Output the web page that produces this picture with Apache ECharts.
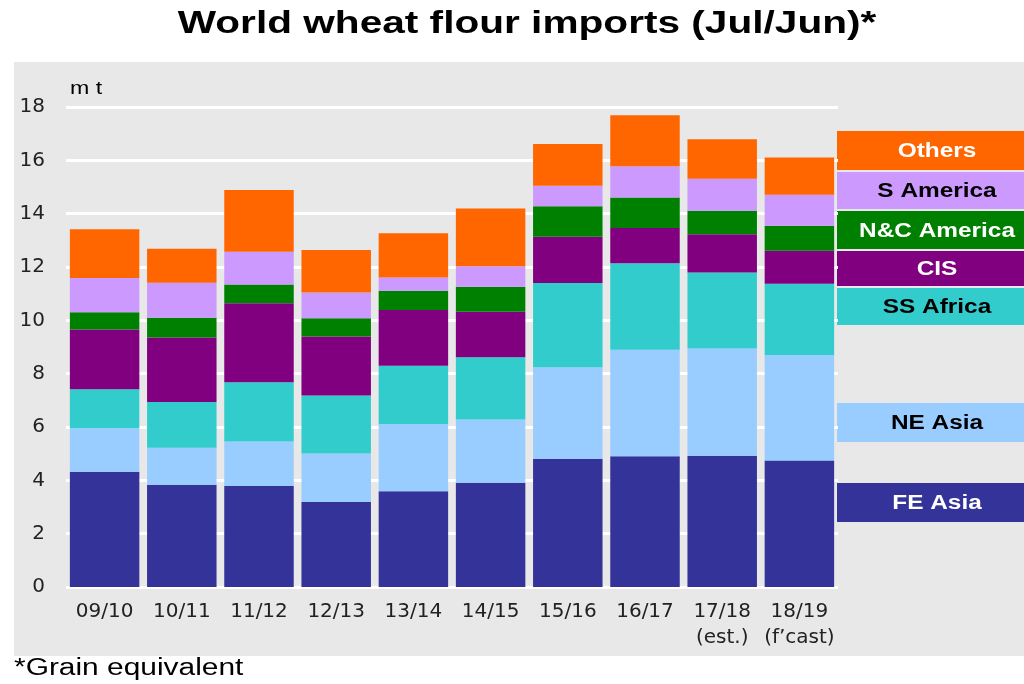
<!DOCTYPE html>
<html>
<head>
<meta charset="utf-8">
<script src="https://cdn.jsdelivr.net/npm/echarts@6/dist/echarts.min.js"></script>
<style>
html,body{margin:0;padding:0;background:#fff;}
#panel{position:absolute;left:14px;top:62px;width:1010px;height:594px;background:#e8e8e8;}
#chart{position:absolute;left:0;top:0;width:1024px;height:684px;}
</style>
</head>
<body>
<div id="panel"></div>
<div id="chart"></div>
<script>
const categories = ['09/10','10/11','11/12','12/13','13/14','14/15','15/16','16/17','17/18\n(est.)','18/19\n(f\u2019cast)'];
const feAsia    = [4.32, 3.83, 3.79, 3.19, 3.59, 3.91, 4.80, 4.90, 4.92, 4.74];
const neAsia    = [1.63, 1.39, 1.67, 1.82, 2.52, 2.37, 3.44, 4.00, 4.02, 3.96];
const ssAfrica  = [1.47, 1.72, 2.22, 2.17, 2.19, 2.34, 3.16, 3.24, 2.85, 2.67];
const cis       = [2.24, 2.42, 2.96, 2.21, 2.09, 1.70, 1.73, 1.32, 1.44, 1.24];
const ncAmerica = [0.64, 0.74, 0.70, 0.69, 0.72, 0.94, 1.15, 1.15, 0.88, 0.94];
const sAmerica  = [1.29, 1.31, 1.23, 0.96, 0.50, 0.77, 0.77, 1.17, 1.20, 1.16];
const others    = [1.83, 1.27, 2.32, 1.60, 1.66, 2.16, 1.56, 1.91, 1.48, 1.40];
const yTicks = {min: 0, max: 18, interval: 2};

const seriesDefs = [
  {name: 'FE Asia', data: feAsia, color: '#333399', text: '#ffffff', box: [483, 522]},
  {name: 'NE Asia', data: neAsia, color: '#99ccff', text: '#000000', box: [403, 442]},
  {name: 'SS Africa', data: ssAfrica, color: '#33cccc', text: '#000000', box: [288, 325]},
  {name: 'CIS', data: cis, color: '#800080', text: '#ffffff', box: [251, 286]},
  {name: 'N&C America', data: ncAmerica, color: '#008000', text: '#ffffff', box: [211, 249]},
  {name: 'S America', data: sAmerica, color: '#cc99ff', text: '#000000', box: [172, 209]},
  {name: 'Others', data: others, color: '#ff6600', text: '#ffffff', box: [131, 170]}
];

const FONT = '"Liberation Sans", Arial, sans-serif';
const chart = echarts.init(document.getElementById('chart'), null, {renderer: 'canvas'});

const graphics = [];
seriesDefs.forEach(s => {
  graphics.push({
    type: 'rect', left: 837, top: s.box[0],
    shape: {width: 187, height: s.box[1] - s.box[0]},
    style: {fill: s.color}
  });
  graphics.push({
    type: 'text', x: 937, y: (s.box[0] + s.box[1]) / 2 + 1, scaleX: 1.22,
    style: {text: s.name, fill: s.text, font: 'bold 20px ' + FONT,
            textAlign: 'center', textVerticalAlign: 'middle'}
  });
});
graphics.push({
  type: 'text', x: 527, y: 24, scaleX: 1.31,
  style: {text: 'World wheat flour imports (Jul/Jun)*', fill: '#000', font: 'bold 31px ' + FONT,
          textAlign: 'center', textVerticalAlign: 'middle'}
});
graphics.push({
  type: 'text', x: 14, y: 669, scaleX: 1.3,
  style: {text: '*Grain equivalent', fill: '#000', font: '23px ' + FONT,
          textVerticalAlign: 'middle'}
});
graphics.push({
  type: 'text', x: 70, y: 89, scaleX: 1.22,
  style: {text: 'm t', fill: '#000', font: '19px ' + FONT,
          textVerticalAlign: 'middle'}
});

chart.setOption({
  backgroundColor: 'transparent',
  animation: false,
  grid: {left: 66, right: 186, top: 107, bottom: 97, containLabel: false},
  xAxis: {
    type: 'category', data: categories,
    axisLine: {show: false}, axisTick: {show: false},
    axisLabel: {color: '#222', fontSize: 20, fontFamily: '"DejaVu Sans", sans-serif', margin: 12, lineHeight: 26, interval: 0}
  },
  yAxis: {
    type: 'value', min: yTicks.min, max: yTicks.max, interval: yTicks.interval,
    axisLine: {show: false}, axisTick: {show: false},
    axisLabel: {color: '#222', fontSize: 20, fontFamily: '"DejaVu Sans", sans-serif', margin: 21},
    splitLine: {lineStyle: {color: '#ffffff', width: 3}}
  },
  series: seriesDefs.map(s => ({
    name: s.name, type: 'bar', stack: 'total', data: s.data,
    barCategoryGap: '10%',
    itemStyle: {color: s.color}
  })),
  graphic: graphics
});
</script>
</body>
</html>
